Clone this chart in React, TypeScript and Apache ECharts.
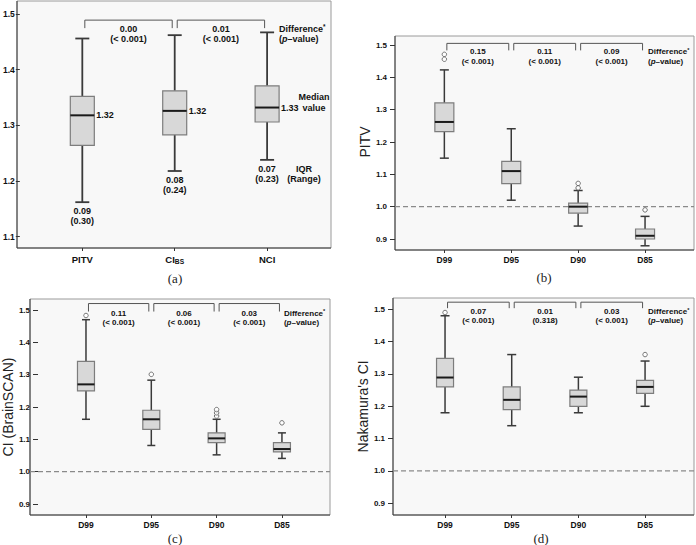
import React, { useEffect, useRef } from "react";
import * as echarts from "echarts";

const FONT = "'Liberation Sans', Arial, Helvetica, sans-serif";
const SERIF = "'Liberation Serif', 'Times New Roman', serif";

// ---------- Panel (a) ----------
const categoriesA = ["PITV", "CIBS", "NCI"];
// [lower whisker, Q1, median, Q3, upper whisker]
const boxesA = [
  [1.162, 1.264, 1.318, 1.352, 1.456],
  [1.218, 1.283, 1.326, 1.362, 1.462],
  [1.238, 1.306, 1.332, 1.371, 1.467],
];
const outliersA: number[][] = [];
const medianLabelsA = ["1.32", "1.32", "1.33"];
const iqrLabelsA = ["0.09", "0.08", "0.07"];
const rangeLabelsA = ["(0.30)", "(0.24)", "(0.23)"];
const diffsA = ["0.00", "0.01"];
const pvalsA = ["(< 0.001)", "(< 0.001)"];
const yTicksA = [1.1, 1.5];

// ---------- Panels (b)-(d) ----------
const doseCategories = ["D99", "D95", "D90", "D85"];

const boxesB = [
  [1.15, 1.232, 1.262, 1.321, 1.423],
  [1.02, 1.071, 1.11, 1.14, 1.241],
  [0.94, 0.98, 1.0, 1.011, 1.05],
  [0.879, 0.9, 0.91, 0.931, 0.97],
];
const outliersB = [[0, 1.471], [0, 1.456], [2, 1.072], [2, 1.058], [3, 0.99]];
const diffsB = ["0.15", "0.11", "0.09"];
const pvalsB = ["(< 0.001)", "(< 0.001)", "(< 0.001)"];

const boxesC = [
  [1.162, 1.25, 1.27, 1.341, 1.47],
  [1.081, 1.131, 1.162, 1.19, 1.283],
  [1.052, 1.09, 1.103, 1.12, 1.162],
  [1.041, 1.061, 1.07, 1.09, 1.12],
];
const outliersC = [[0, 1.483], [1, 1.301], [2, 1.172], [2, 1.182], [2, 1.192], [3, 1.151]];
const diffsC = ["0.11", "0.06", "0.03"];
const pvalsC = ["(< 0.001)", "(< 0.001)", "(< 0.001)"];

const boxesD = [
  [1.18, 1.26, 1.289, 1.348, 1.48],
  [1.14, 1.19, 1.22, 1.26, 1.36],
  [1.18, 1.2, 1.23, 1.25, 1.29],
  [1.2, 1.24, 1.26, 1.28, 1.34],
];
const outliersD = [[0, 1.49], [3, 1.36]];
const diffsD = ["0.07", "0.01", "0.03"];
const pvalsD = ["(< 0.001)", "(0.318)", "(< 0.001)"];

const yTicksDose = [0.9, 1.5];
const referenceValue = 1.0;

type Panel = {
  cats: string[];
  boxes: number[][];
  outliers: number[][];
  diffs: string[];
  pvals: string[];
  yRange: number[];
  yName: string;
  nameGap: number;
  label: string;
  labelPos: number[];
  refLine: boolean;
  frame: number[]; // x0, y0, x1, y1
  grid: number[]; // left, top, width, height
  bracketY: number;
  bracketTick: number;
  textDy: number;
  lineH: number;
  annotFs: number;
  tickFs: number;
  catFs: number;
  tickLen: number;
  yLabelMargin: number;
  xLabelMargin: number;
  boxW: number;
  capW: number;
  whiskerW: number;
  diffOffset: number;
  annotA?: boolean;
};

const panels: Panel[] = [
  {
    cats: categoriesA, boxes: boxesA, outliers: outliersA, diffs: diffsA, pvals: pvalsA,
    yRange: yTicksA, yName: "", nameGap: 0, label: "(a)", labelPos: [175, 278], refLine: false,
    frame: [17, 1, 331, 248], grid: [33.3, 14, 280, 222.7],
    bracketY: 1.489, bracketTick: 8, textDy: 3.5, lineH: 10.5, annotFs: 9,
    tickFs: 8.5, catFs: 9.5, tickLen: 4, yLabelMargin: 5, xLabelMargin: 5,
    boxW: 24, capW: 14, whiskerW: 1.8, diffOffset: 12, annotA: true,
  },
  {
    cats: doseCategories, boxes: boxesB, outliers: outliersB, diffs: diffsB, pvals: pvalsB,
    yRange: yTicksDose, yName: "PITV", nameGap: 17, label: "(b)", labelPos: [544, 277], refLine: true,
    frame: [395, 36, 694, 250], grid: [410.9, 45, 267.6, 194],
    bracketY: 1.505, bracketTick: 7, textDy: 3.5, lineH: 9.5, annotFs: 8,
    tickFs: 8, catFs: 8.5, tickLen: 5, yLabelMargin: 8, xLabelMargin: 4,
    boxW: 19, capW: 9, whiskerW: 1.5, diffOffset: 3,
  },
  {
    cats: doseCategories, boxes: boxesC, outliers: outliersC, diffs: diffsC, pvals: pvalsC,
    yRange: yTicksDose, yName: "CI (BrainSCAN)", nameGap: 12, label: "(c)", labelPos: [175, 538.5], refLine: true,
    frame: [30, 299, 330, 515], grid: [45.3, 310, 269.3, 194],
    bracketY: 1.52, bracketTick: 8, textDy: 4.8, lineH: 9.5, annotFs: 8,
    tickFs: 8, catFs: 8.5, tickLen: 5, yLabelMargin: 8, xLabelMargin: 4,
    boxW: 17, capW: 8, whiskerW: 1.5, diffOffset: 2,
  },
  {
    cats: doseCategories, boxes: boxesD, outliers: outliersD, diffs: diffsD, pvals: pvalsD,
    yRange: yTicksDose, yName: "Nakamura's CI", nameGap: 21, label: "(d)", labelPos: [541, 538.5], refLine: true,
    frame: [393, 298, 694, 515], grid: [411.7, 309.3, 266.7, 194],
    bracketY: 1.522, bracketTick: 6, textDy: 4.5, lineH: 9.5, annotFs: 8,
    tickFs: 8, catFs: 8.5, tickLen: 5, yLabelMargin: 8, xLabelMargin: 4,
    boxW: 17, capW: 9, whiskerW: 1.5, diffOffset: 3,
  },
];

const TEXT = "#111";

function boxRenderer(p: Panel) {
  return (params: any, api: any) => {
    const i = api.value(0);
    const lo = api.value(1), q1 = api.value(2), md = api.value(3), q3 = api.value(4), hi = api.value(5);
    const cx = api.coord([i, md])[0];
    const y = (v: number) => api.coord([i, v])[1];
    const hw = p.boxW / 2, cw = p.capW / 2;
    const wStyle = { stroke: "#3a3a3a", lineWidth: p.whiskerW };
    const children: any[] = [
      { type: "line", shape: { x1: cx, y1: y(hi), x2: cx, y2: y(q3) }, style: wStyle },
      { type: "line", shape: { x1: cx, y1: y(q1), x2: cx, y2: y(lo) }, style: wStyle },
      { type: "line", shape: { x1: cx - cw, y1: y(hi), x2: cx + cw, y2: y(hi) }, style: wStyle },
      { type: "line", shape: { x1: cx - cw, y1: y(lo), x2: cx + cw, y2: y(lo) }, style: wStyle },
      {
        type: "rect",
        shape: { x: cx - hw, y: y(q3), width: p.boxW, height: y(q1) - y(q3) },
        style: { fill: "#d8d8d8", stroke: "#7d7d7d", lineWidth: 1.2 },
      },
      { type: "line", shape: { x1: cx - hw, y1: y(md), x2: cx + hw, y2: y(md) }, style: { stroke: "#1a1a1a", lineWidth: 2 } },
    ];
    if (p.annotA) {
      const ts = { fill: TEXT, fontFamily: FONT, fontWeight: "bold", fontSize: p.annotFs, lineHeight: p.lineH };
      children.push({
        type: "text", x: cx + hw + 2, y: y(md),
        style: { ...ts, text: medianLabelsA[params.dataIndex], align: "left", verticalAlign: "middle" },
      });
      children.push({
        type: "text", x: cx, y: y(lo) + 3.5,
        style: { ...ts, text: iqrLabelsA[params.dataIndex] + "\n" + rangeLabelsA[params.dataIndex], align: "center", verticalAlign: "top" },
      });
      if (params.dataIndex === p.boxes.length - 1) {
        children.push({
          type: "text", x: cx + 47, y: y(md) - 5,
          style: { ...ts, text: "Median\nvalue", align: "center", verticalAlign: "middle" },
        });
        children.push({
          type: "text", x: cx + 37, y: y(lo) + 3.5,
          style: { ...ts, text: "IQR\n(Range)", align: "center", verticalAlign: "top" },
        });
      }
    }
    return { type: "group", children };
  };
}

function bracketRenderer(p: Panel) {
  return (params: any, api: any) => {
    const i = api.value(0);
    const yv = api.value(1);
    const a = api.coord([i, yv]);
    const b = api.coord([i + 1, yv]);
    const x1 = a[0] + 2.5, x2 = b[0] - 2.5, y = a[1];
    const base = { fill: TEXT, fontFamily: FONT, fontWeight: "bold", fontSize: p.annotFs, lineHeight: p.lineH };
    const children: any[] = [
      {
        type: "polyline",
        shape: { points: [[x1, y + p.bracketTick], [x1, y], [x2, y], [x2, y + p.bracketTick]] },
        style: { stroke: "#555", lineWidth: 1, fill: "none" },
      },
      {
        type: "text", x: (a[0] + b[0]) / 2, y: y + p.textDy,
        style: { ...base, text: p.diffs[i] + "\n" + p.pvals[i], align: "center", verticalAlign: "top" },
      },
    ];
    if (params.dataIndex === p.diffs.length - 1) {
      children.push({
        type: "text", x: b[0] + p.diffOffset, y: y + p.textDy,
        style: {
          ...base,
          text: "{d|Difference}{s|*}\n{d|(}{i|p}{d|–value)}",
          align: "left", verticalAlign: "top",
          rich: {
            d: { ...base },
            s: { ...base, fontSize: p.annotFs * 0.7, verticalAlign: "top" },
            i: { ...base, fontStyle: "italic" },
          },
        },
      });
    }
    return { type: "group", children };
  };
}

function refLineRenderer(p: Panel) {
  return (params: any, api: any) => {
    const y = api.coord([0, api.value(1)])[1];
    return {
      type: "line",
      shape: { x1: p.frame[0], y1: y, x2: p.frame[2], y2: y },
      style: { stroke: "#8a8a8a", lineWidth: 1.2, lineDash: [5, 3] },
    };
  };
}

function buildOption() {
  const grid: any[] = [], xAxis: any[] = [], yAxis: any[] = [], series: any[] = [], graphic: any[] = [];
  panels.forEach((p, k) => {
    const [fx0, fy0, fx1, fy1] = p.frame;
    const [gl, gt, gw, gh] = p.grid;
    grid.push({ left: gl, top: gt, width: gw, height: gh });
    xAxis.push({
      type: "category", gridIndex: k, data: p.cats, boundaryGap: true,
      offset: fy1 - (gt + gh),
      axisLine: { show: false },
      axisTick: { show: true, alignWithLabel: true, length: 3, lineStyle: { color: "#333" } },
      axisLabel: {
        margin: p.xLabelMargin,
        formatter: (v: string) => (v === "CIBS" ? "{m|CI}{s|BS}" : "{m|" + v + "}"),
        rich: {
          m: { fontFamily: FONT, fontWeight: "bold", fontSize: p.catFs, color: TEXT, lineHeight: 12 },
          s: { fontFamily: FONT, fontWeight: "bold", fontSize: p.catFs * 0.7, color: TEXT, lineHeight: 12, verticalAlign: "bottom" },
        },
      },
      splitLine: { show: false },
    });
    yAxis.push({
      type: "value", gridIndex: k, min: p.yRange[0], max: p.yRange[1], interval: 0.1,
      offset: gl - fx0,
      axisLine: { show: false },
      axisTick: { show: true, length: p.tickLen, lineStyle: { color: "#333" } },
      axisLabel: {
        margin: p.yLabelMargin, fontFamily: FONT, fontWeight: "bold", fontSize: p.tickFs, color: TEXT,
        formatter: (v: number) => v.toFixed(1),
      },
      splitLine: { show: false },
      name: p.yName, nameLocation: "middle", nameGap: p.nameGap,
      nameTextStyle: { fontFamily: FONT, fontSize: 14, color: "#222" },
    });
    if (p.refLine) {
      series.push({
        type: "custom", xAxisIndex: k, yAxisIndex: k, z: 2, silent: true,
        data: [[0, referenceValue]], encode: { x: 0, y: 1 },
        renderItem: refLineRenderer(p),
      });
    }
    series.push({
      type: "custom", xAxisIndex: k, yAxisIndex: k, z: 3,
      data: p.boxes.map((b, i) => [i, ...b]), encode: { x: 0, y: [1, 2, 3, 4, 5] },
      renderItem: boxRenderer(p),
    });
    if (p.outliers.length) {
      series.push({
        type: "scatter", xAxisIndex: k, yAxisIndex: k, z: 4,
        data: p.outliers, symbol: "circle", symbolSize: 4.5,
        itemStyle: { color: "#ffffff", borderColor: "#555", borderWidth: 1 },
      });
    }
    series.push({
      type: "custom", xAxisIndex: k, yAxisIndex: k, z: 4,
      data: p.diffs.map((_, i) => [i, p.bracketY]), encode: { x: 0, y: 1 },
      renderItem: bracketRenderer(p),
    });
    // frame
    graphic.push({
      type: "rect", z: -10, silent: true,
      shape: { x: fx0, y: fy0, width: fx1 - fx0, height: fy1 - fy0 },
      style: { fill: "#f8f8f8", stroke: "#9a9a9a", lineWidth: 1 },
    });
    graphic.push({
      type: "polyline", z: 1, silent: true,
      shape: { points: [[fx0, fy0], [fx0, fy1], [fx1, fy1]] },
      style: { stroke: "#3a3a3a", lineWidth: 1, fill: "none" },
    });
    graphic.push({
      type: "text", z: 1, silent: true, x: p.labelPos[0], y: p.labelPos[1],
      style: { text: p.label, fontFamily: SERIF, fontSize: 13, fill: "#222", align: "center", verticalAlign: "middle" },
    });
  });
  return {
    animation: false,
    backgroundColor: "#ffffff",
    grid, xAxis, yAxis, series, graphic,
  };
}

export default function App() {
  const ref = useRef<HTMLDivElement>(null);
  useEffect(() => {
    if (!ref.current) return;
    const chart = echarts.init(ref.current, undefined, { renderer: "svg" });
    chart.setOption(buildOption() as any);
    return () => chart.dispose();
  }, []);
  return (
    <div
      ref={ref}
      style={{ position: "fixed", left: 0, top: 0, width: 696, height: 545, background: "#fff" }}
    />
  );
}
